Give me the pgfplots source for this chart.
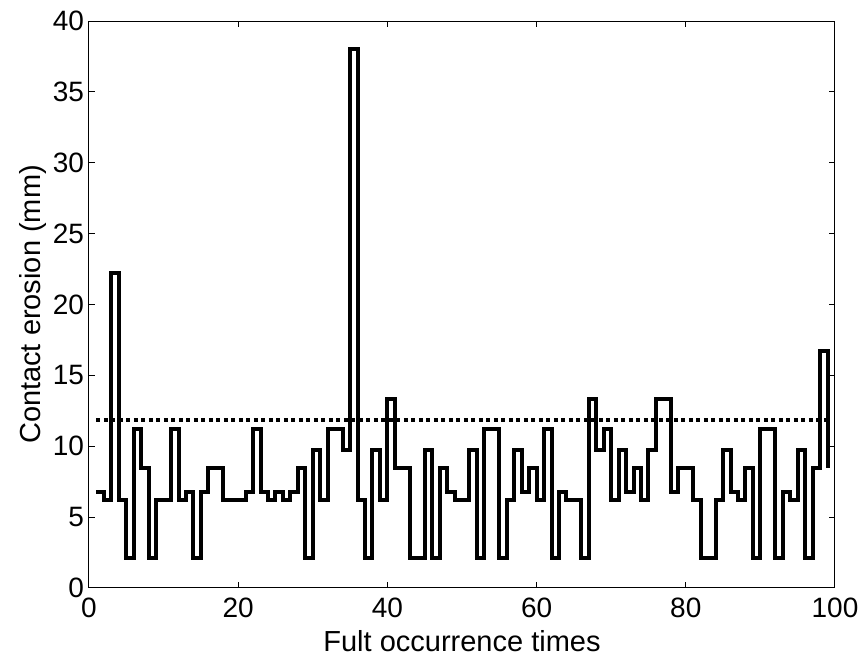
\documentclass[border=0pt]{standalone}
\usepackage{fontspec}
\setmainfont{Liberation Sans}
\usepackage{pgfplots}
\pgfplotsset{compat=1.18}
\begin{document}
\begin{tikzpicture}
\path (-44.5pt,-36pt) rectangle (388pt,294pt);
\begin{axis}[
  at={(0,0)}, anchor=south west, scale only axis,
  width=373pt, height=283.5pt,
  xmin=0, xmax=100, ymin=0, ymax=40,
  xtick={0,20,...,100}, ytick={0,5,...,40},
  tick align=inside, major tick length=3pt,
  axis line style={line width=0.5pt},
  tick style={line width=0.5pt, black},
  /pgf/number format/assume math mode=true,
  ticklabel style={font=\fontsize{14}{16}\selectfont},
  xticklabel style={yshift=-1.5pt},
  yticklabel style={xshift=1pt},
  label style={font=\fontsize{14.5}{16}\selectfont},
  xlabel={Fult occurrence times},
  ylabel={Contact erosion (mm)},
  xlabel style={at={(axis description cs:0.5,-0.0944)}, anchor=center},
  ylabel style={at={(axis description cs:-0.0757,0.5)}, anchor=center},
  clip=false,
]
\addplot[const plot, black, line width=2pt] table[row sep=\\] {
x y\\
1 6.8\\ 2 6.2\\ 3 22.2\\ 4 6.2\\ 5 2.1\\ 6 11.2\\ 7 8.5\\ 8 2.1\\ 9 6.2\\ 10 6.2\\
11 11.2\\ 12 6.2\\ 13 6.8\\ 14 2.1\\ 15 6.8\\ 16 8.5\\ 17 8.5\\ 18 6.2\\ 19 6.2\\ 20 6.2\\
21 6.8\\ 22 11.2\\ 23 6.8\\ 24 6.2\\ 25 6.8\\ 26 6.2\\ 27 6.8\\ 28 8.5\\ 29 2.1\\ 30 9.7\\
31 6.2\\ 32 11.2\\ 33 11.2\\ 34 9.7\\ 35 38\\ 36 6.2\\ 37 2.1\\ 38 9.7\\ 39 6.2\\ 40 13.3\\
41 8.5\\ 42 8.5\\ 43 2.1\\ 44 2.1\\ 45 9.7\\ 46 2.1\\ 47 8.5\\ 48 6.8\\ 49 6.2\\ 50 6.2\\
51 9.7\\ 52 2.1\\ 53 11.2\\ 54 11.2\\ 55 2.1\\ 56 6.2\\ 57 9.7\\ 58 6.8\\ 59 8.5\\ 60 6.2\\
61 11.2\\ 62 2.1\\ 63 6.8\\ 64 6.2\\ 65 6.2\\ 66 2.1\\ 67 13.3\\ 68 9.7\\ 69 11.2\\ 70 6.2\\
71 9.7\\ 72 6.8\\ 73 8.5\\ 74 6.2\\ 75 9.7\\ 76 13.3\\ 77 13.3\\ 78 6.8\\ 79 8.5\\ 80 8.5\\
81 6.2\\ 82 2.1\\ 83 2.1\\ 84 6.2\\ 85 9.7\\ 86 6.8\\ 87 6.2\\ 88 8.5\\ 89 2.1\\ 90 11.2\\
91 11.2\\ 92 2.1\\ 93 6.8\\ 94 6.2\\ 95 9.7\\ 96 2.1\\ 97 8.5\\ 98 16.7\\ 99 8.5\\
};
\addplot[black, line width=2pt, dash pattern=on 2pt off 1.75pt] coordinates {(1,11.85) (99,11.85)};
\end{axis}
\end{tikzpicture}
\end{document}
